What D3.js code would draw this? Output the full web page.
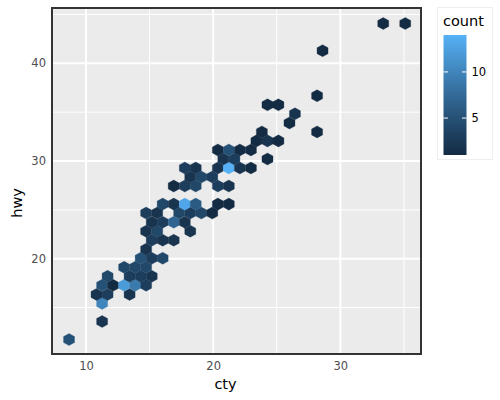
<!DOCTYPE html>
<html>
<head>
<meta charset="utf-8">
<script src="https://cdn.jsdelivr.net/npm/d3@7"></script>
<style>
  html, body { margin: 0; padding: 0; background: #ffffff; }
  svg { display: block; font-family: "DejaVu Sans", sans-serif; }
</style>
</head>
<body>
<svg id="chart" width="500" height="400"></svg>
<script>
// Hexagon cell centers (data units) and counts
const hexCty = [
  8.67,
  11.27,
  11.27,
  10.83, 11.70, 13.43,
  11.27, 12.13, 13.00, 13.87, 14.73,
  11.70, 13.43, 14.30, 15.17,
  13.00, 13.87, 14.73,
  14.30, 15.17, 16.03,
  14.73,
  15.17, 16.03, 16.90,
  14.73, 15.60, 18.20,
  15.17, 16.03, 16.90, 17.77,
  14.73, 15.60, 17.33, 18.20, 19.07, 19.93,
  16.03, 16.90, 17.77, 18.63, 20.37, 21.23,
  16.90, 17.77, 18.63, 20.37, 21.23,
  18.20, 19.07, 19.93,
  17.77, 18.63, 20.37, 21.23, 22.10, 22.97,
  20.80, 21.67, 24.27,
  20.37, 21.23, 22.10, 22.97,
  23.40, 24.27, 25.13,
  23.83, 28.17,
  26.00,
  26.43,
  24.27, 25.13,
  28.17,
  28.60,
  33.37, 35.10
];
const hexHwy = [
  11.73,
  13.58,
  15.43,
  16.35, 16.35, 16.35,
  17.28, 17.28, 17.28, 17.28, 17.28,
  18.20, 18.20, 18.20, 18.20,
  19.12, 19.12, 19.12,
  20.05, 20.05, 20.05,
  20.97,
  21.90, 21.90, 21.90,
  22.82, 22.82, 22.82,
  23.74, 23.74, 23.74, 23.74,
  24.67, 24.67, 24.67, 24.67, 24.67, 24.67,
  25.59, 25.59, 25.59, 25.59, 25.59, 25.59,
  27.44, 27.44, 27.44, 27.44, 27.44,
  28.36, 28.36, 28.36,
  29.29, 29.29, 29.29, 29.29, 29.29, 29.29,
  30.21, 30.21, 30.21,
  31.13, 31.13, 31.13, 31.13,
  32.06, 32.06, 32.06,
  32.98, 32.98,
  33.90,
  34.83,
  35.75, 35.75,
  36.68,
  41.29,
  44.07, 44.07
];
const hexCount = [
  5,
  2,
  10,
  2, 3, 2,
  5, 1, 12, 9, 3,
  4, 3, 3, 2,
  4, 4, 4,
  5, 3, 4,
  2,
  3, 2, 2,
  2, 4, 2,
  2, 3, 7, 2,
  3, 2, 4, 3, 4, 1,
  4, 2, 13, 6, 1, 1,
  1, 3, 4, 3, 2,
  2, 4, 3,
  3, 2, 2, 14, 2, 1,
  2, 3, 1,
  1, 5, 1, 1,
  1, 2, 1,
  1, 1,
  1,
  2,
  1, 1,
  1,
  1,
  1, 1
];
const xTicks = [10, 20, 30];
const yTicks = [20, 30, 40];
const xMinor = [15, 25, 35];
const yMinor = [15, 25, 35, 45];
const legendTicks = [5, 10];
const countRange = [1, 14];
const binHalfWidth = 0.4333;   // half hexagon width in cty units
const binHeight = 1.0667;      // hwy binwidth

const svg = d3.select("#chart");
const panel = { left: 52, right: 421, top: 8, bottom: 354 };

const x = d3.scaleLinear().domain([7.33, 36.34]).range([panel.left, panel.right]);
const y = d3.scaleLinear().domain([10.25, 45.66]).range([panel.bottom, panel.top]);
const color = d3.scaleLinear().domain(countRange)
  .range(["#132B43", "#56B1F7"]).interpolate(d3.interpolateLab);

// panel background
svg.append("rect")
  .attr("x", panel.left).attr("y", panel.top)
  .attr("width", panel.right - panel.left).attr("height", panel.bottom - panel.top)
  .attr("fill", "#EBEBEB");

// minor grid
const grid = svg.append("g");
grid.selectAll("line.xminor").data(xMinor.filter(v => x(v) < panel.right)).join("line")
  .attr("x1", d => x(d)).attr("x2", d => x(d))
  .attr("y1", panel.top).attr("y2", panel.bottom)
  .attr("stroke", "#ffffff").attr("stroke-width", 1);
grid.selectAll("line.yminor").data(yMinor.filter(v => y(v) > panel.top)).join("line")
  .attr("x1", panel.left).attr("x2", panel.right)
  .attr("y1", d => y(d)).attr("y2", d => y(d))
  .attr("stroke", "#ffffff").attr("stroke-width", 1);
// major grid
grid.selectAll("line.xmajor").data(xTicks).join("line")
  .attr("x1", d => x(d)).attr("x2", d => x(d))
  .attr("y1", panel.top).attr("y2", panel.bottom)
  .attr("stroke", "#ffffff").attr("stroke-width", 2);
grid.selectAll("line.ymajor").data(yTicks).join("line")
  .attr("x1", panel.left).attr("x2", panel.right)
  .attr("y1", d => y(d)).attr("y2", d => y(d))
  .attr("stroke", "#ffffff").attr("stroke-width", 2);

// hexagons
const dy = binHeight / Math.sqrt(3) / 2;
const hexOffsets = [
  [binHalfWidth, dy], [0, 2 * dy], [-binHalfWidth, dy],
  [-binHalfWidth, -dy], [0, -2 * dy], [binHalfWidth, -dy]
];
const cells = hexCty.map((c, i) => ({ cty: c, hwy: hexHwy[i], count: hexCount[i] }));
const line = d3.line();
svg.append("g").selectAll("path").data(cells).join("path")
  .attr("d", d => line(hexOffsets.map(o => [x(d.cty + o[0]), y(d.hwy + o[1])])) + "Z")
  .attr("fill", d => color(d.count))
  .attr("stroke", d => color(d.count))
  .attr("stroke-width", 0.3);

// panel border
svg.append("rect")
  .attr("x", panel.left).attr("y", panel.top)
  .attr("width", panel.right - panel.left).attr("height", panel.bottom - panel.top)
  .attr("fill", "none").attr("stroke", "#333333").attr("stroke-width", 2);

// axis labels
const xAxis = d3.axisBottom(x).tickValues(xTicks).tickSize(0).tickPadding(8);
const gx = svg.append("g").attr("transform", `translate(0,${panel.bottom})`).call(xAxis);
gx.select(".domain").remove();
gx.selectAll("text").attr("font-size", "11.5px").attr("fill", "#4D4D4D")
  .attr("font-family", "DejaVu Sans, sans-serif");

const yAxis = d3.axisLeft(y).tickValues(yTicks).tickSize(0).tickPadding(6);
const gy = svg.append("g").attr("transform", `translate(${panel.left},0)`).call(yAxis);
gy.select(".domain").remove();
gy.selectAll("text").attr("font-size", "11.5px").attr("fill", "#4D4D4D")
  .attr("font-family", "DejaVu Sans, sans-serif");

svg.append("text").attr("x", 225.5).attr("y", 389)
  .attr("text-anchor", "middle").attr("font-size", "14.5px").attr("fill", "#000")
  .text("cty");
svg.append("text")
  .attr("transform", "translate(22,203) rotate(-90)")
  .attr("text-anchor", "middle").attr("font-size", "14.5px").attr("fill", "#000")
  .text("hwy");

// legend
const lg = svg.append("g");
lg.append("rect").attr("x", 437.5).attr("y", 7.5).attr("width", 55).attr("height", 152)
  .attr("fill", "#ffffff").attr("stroke", "#EEEEEE").attr("stroke-width", 1);
lg.append("text").attr("x", 443).attr("y", 26).attr("font-size", "14.5px").attr("fill", "#000")
  .text("count");

const barY = d3.scaleLinear().domain(countRange).range([155, 35]);
const defs = svg.append("defs");
const grad = defs.append("linearGradient").attr("id", "cbar")
  .attr("x1", 0).attr("y1", 1).attr("x2", 0).attr("y2", 0);
d3.range(0, 1.0001, 0.05).forEach(t => {
  const v = countRange[0] + t * (countRange[1] - countRange[0]);
  grad.append("stop").attr("offset", t).attr("stop-color", color(v));
});
const barX = 443.5, barW = 23;
lg.append("rect").attr("x", barX).attr("y", barY(countRange[1]))
  .attr("width", barW).attr("height", barY(countRange[0]) - barY(countRange[1]))
  .attr("fill", "url(#cbar)");
legendTicks.forEach(v => {
  lg.append("line").attr("x1", barX).attr("x2", barX + 4.5)
    .attr("y1", barY(v)).attr("y2", barY(v)).attr("stroke", "#ffffff").attr("stroke-width", 1);
  lg.append("line").attr("x1", barX + barW - 4.5).attr("x2", barX + barW)
    .attr("y1", barY(v)).attr("y2", barY(v)).attr("stroke", "#ffffff").attr("stroke-width", 1);
  lg.append("text").attr("x", 471.5).attr("y", barY(v)).attr("dy", "0.35em")
    .attr("font-size", "11.5px").attr("fill", "#000").text(v);
});
</script>
</body>
</html>
